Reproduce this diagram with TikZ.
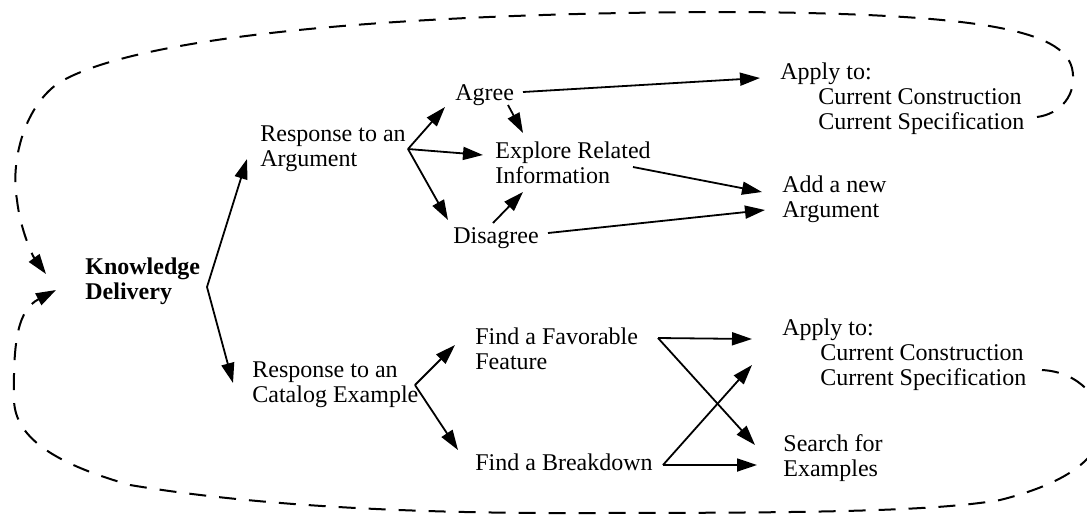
\documentclass[tikz,border=0pt]{standalone}
\usepackage{fontspec}
\setmainfont{Liberation Serif}
\usetikzlibrary{arrows.meta}
\newcommand*{\Ind}{\hspace*{19pt}}
\tikzset{
  txt/.style={anchor=north west, inner sep=0pt, align=left, font=\fontsize{12}{12.5}\selectfont,
    execute at begin node=\strut, execute at end node=\strut},
  arr/.style={draw, line width=0.9pt, -{Triangle[length=10pt,width=6.5pt]}},
  loopline/.style={draw, line width=1pt, dash pattern=on 8.5pt off 6.5pt, -{Triangle[length=10pt,width=6.5pt]}}
}

\begin{document}
\begin{tikzpicture}[x=0.5pt, y=-0.5pt]
  \useasboundingbox (0,0) rectangle (1087,516);

  \node[txt, font=\fontsize{12}{12.5}\selectfont\bfseries] (kd) at (85,257.5) {Knowledge\\Delivery};
  \node[txt] (resarg) at (260,125.5) {Response to an\\Argument};
  \node[txt] (agree) at (455,82.5) {Agree};
  \node[txt] (explore) at (495,141.5) {Explore Related\\Information};
  \node[txt] (disagree) at (453,225.5) {Disagree};
  \node[txt] (apply1) at (780,62.5) {Apply to:\\\Ind Current Construction\\\Ind Current Specification};
  \node[txt] (addarg) at (782,175.5) {Add a new\\Argument};
  \node[txt] (rescat) at (252,361.5) {Response to an\\Catalog Example};
  \node[txt] (fav) at (475,327.5) {Find a Favorable\\Feature};
  \node[txt] (brk) at (475,452.5) {Find a Breakdown};
  \node[txt] (apply2) at (782,318.5) {Apply to:\\\Ind Current Construction\\\Ind Current Specification};
  \node[txt] (search) at (783,434.5) {Search for\\Examples};

  \coordinate (kdfork) at (207,287);
  \coordinate (argfork) at (408,149);
  \coordinate (catfork) at (415,385);
  \coordinate (favfork) at (658,338);
  \coordinate (brkfork) at (663,465);

  \foreach \dx/\dy/\n in {-13/33.5/resarg, -19/21.5/rescat}
    \path[arr] (kdfork) -- ([shift={(\dx,\dy)}]\n.north west);
  \foreach \dx/\dy/\n in {-10/24.5/agree, -12/13.5/explore, -5/-5.5/disagree}
    \path[arr] (argfork) -- ([shift={(\dx,\dy)}]\n.north west);
  \path[arr] ([shift={(68,9.5)}]agree.north west) -- ([shift={(-20,15.5)}]apply1.north west);
  \path[arr] ([shift={(53,22.5)}]agree.north west) -- ([shift={(28,-8.5)}]explore.north west);
  \path[arr] ([shift={(138,25.5)}]explore.north west) -- ([shift={(-20,16.5)}]addarg.north west);
  \path[arr] ([shift={(40,-2.5)}]disagree.north west) -- ([shift={(28,50.5)}]explore.north west);
  \path[arr] ([shift={(95,7.5)}]disagree.north west) -- ([shift={(-17,34.5)}]addarg.north west);

  \path[arr] (catfork) -- ([shift={(-20,17.5)}]fav.north west);
  \path[arr] (catfork) -- ([shift={(-17,-2.5)}]brk.north west);
  \foreach \dx/\dy/\n in {-30/20.5/apply2, -28/10.5/search}
    \path[arr] (favfork) -- ([shift={(\dx,\dy)}]\n.north west);
  \foreach \dx/\dy/\n in {-30/46.5/apply2, -26/30.5/search}
    \path[arr] (brkfork) -- ([shift={(\dx,\dy)}]\n.north west);

  \path[loopline] ([shift={(257,54.5)}]apply1.north west)
    .. controls (1060,114) and (1078,95) .. (1072,68)
    .. controls (1062,30) and (980,14) .. (740,12)
    .. controls (450,12) and (150,30) .. (60,82)
    .. controls (25,105) and (10,160) .. (17,200)
    .. controls (20,228) and (32,255) .. ([shift={(-39,16.5)}]kd.north west);
  \path[loopline] ([shift={(260,51.5)}]apply2.north west)
    .. controls (1080,372) and (1102,400) .. (1102,425)
    .. controls (1102,455) and (1072,482) .. (1000,500)
    .. controls (930,512) and (800,513) .. (560,513)
    .. controls (400,513) and (250,505) .. (130,485)
    .. controls (60,465) and (15,440) .. (14,400)
    .. controls (13,340) and (18,310) .. ([shift={(-29,32.5)}]kd.north west);
\end{tikzpicture}
\end{document}
